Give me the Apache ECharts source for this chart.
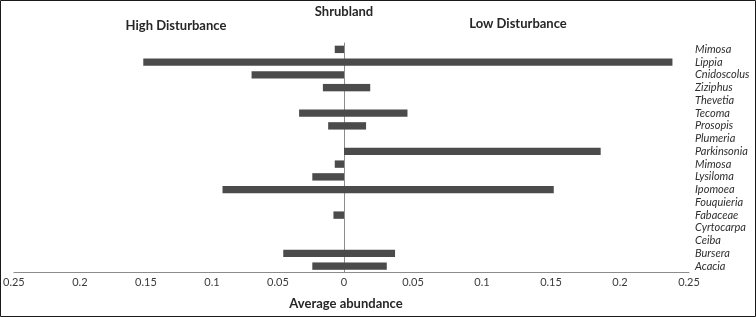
<!DOCTYPE html>
<html>
<head>
<meta charset="utf-8">
<script src="https://cdn.jsdelivr.net/npm/echarts@6/dist/echarts.min.js"></script>
<style>
  html, body { margin: 0; padding: 0; background: #fff; }
  #chart { width: 756px; height: 317px; }
</style>
</head>
<body>
<div id="chart"></div>
<script>
// genera, top to bottom
const genera = ['Mimosa', 'Lippia', 'Cnidoscolus', 'Ziziphus', 'Thevetia', 'Tecoma', 'Prosopis', 'Plumeria',
    'Parkinsonia', 'Mimosa', 'Lysiloma', 'Ipomoea', 'Fouquieria', 'Fabaceae', 'Cyrtocarpa', 'Ceiba', 'Bursera', 'Acacia'];
// average abundance, high disturbance (drawn to the left)
const highDisturbance = [0.007, 0.152, 0.070, 0.016, 0, 0.034, 0.012, 0,
    0, 0.007, 0.024, 0.092, 0, 0.008, 0, 0, 0.046, 0.024];
// average abundance, low disturbance (drawn to the right)
const lowDisturbance = [0, 0.238, 0, 0.019, 0, 0.046, 0.016, 0,
    0.186, 0, 0, 0.152, 0, 0, 0, 0, 0.037, 0.031];
const xMax = 0.25;
const xStep = 0.05;

const chart = echarts.init(document.getElementById('chart'));
const font = 'Lato, "Open Sans", sans-serif';
const barColor = '#4b4b4b';
const lineColor = '#8c8c8c';

const xAxisBase = {
    type: 'value', min: 0, max: xMax, interval: xStep,
    axisLine: { show: true, lineStyle: { color: lineColor, width: 1 } },
    axisTick: { show: false },
    splitLine: { show: false },
    axisLabel: { color: '#3a3a3a', fontSize: 11, fontFamily: font, margin: 4 }
};

chart.setOption({
    animation: false,
    textStyle: { fontFamily: font },
    grid: [
        { left: 12, top: 43, width: 332, height: 229.5 },
        { left: 344, top: 43, width: 345, height: 229.5 }
    ],
    xAxis: [
        Object.assign({}, xAxisBase, {
            gridIndex: 0, inverse: true,
            axisLabel: Object.assign({}, xAxisBase.axisLabel, { formatter: (v) => v === 0 ? '' : String(+v.toFixed(2)) })
        }),
        Object.assign({}, xAxisBase, {
            gridIndex: 1,
            axisLabel: Object.assign({}, xAxisBase.axisLabel, { formatter: (v) => String(+v.toFixed(2)) })
        })
    ],
    yAxis: [
        {
            type: 'category', gridIndex: 0, data: genera, inverse: true, position: 'right',
            axisLine: { show: true, lineStyle: { color: lineColor, width: 1 } },
            axisTick: { show: false }, axisLabel: { show: false }
        },
        {
            type: 'category', gridIndex: 1, data: genera, inverse: true, position: 'right',
            axisLine: { show: false }, axisTick: { show: false },
            axisLabel: { interval: 0, color: '#2e2e2e', fontSize: 11, fontStyle: 'italic', fontFamily: font, margin: 6, align: 'left' }
        }
    ],
    series: [
        {
            name: 'High Disturbance', type: 'bar', xAxisIndex: 0, yAxisIndex: 0,
            data: highDisturbance, barWidth: '58%', itemStyle: { color: barColor }
        },
        {
            name: 'Low Disturbance', type: 'bar', xAxisIndex: 1, yAxisIndex: 1,
            data: lowDisturbance, barWidth: '58%', itemStyle: { color: barColor }
        }
    ],
    graphic: [
        { type: 'rect', shape: { x: 0.5, y: 0.5, width: 755, height: 316 }, style: { fill: 'none', stroke: '#1a1a1a', lineWidth: 1 }, silent: true },
        { type: 'text', x: 344, y: 12, style: { text: 'Shrubland', font: 'bold 13px ' + font, fill: '#262626', align: 'center', verticalAlign: 'middle' } },
        { type: 'text', x: 176, y: 26, style: { text: 'High Disturbance', font: 'bold 13px ' + font, fill: '#262626', align: 'center', verticalAlign: 'middle' } },
        { type: 'text', x: 518, y: 24, style: { text: 'Low Disturbance', font: 'bold 13px ' + font, fill: '#262626', align: 'center', verticalAlign: 'middle' } },
        { type: 'text', x: 346, y: 304, style: { text: 'Average abundance', font: 'bold 13px ' + font, fill: '#262626', align: 'center', verticalAlign: 'middle' } }
    ]
});
</script>
</body>
</html>
